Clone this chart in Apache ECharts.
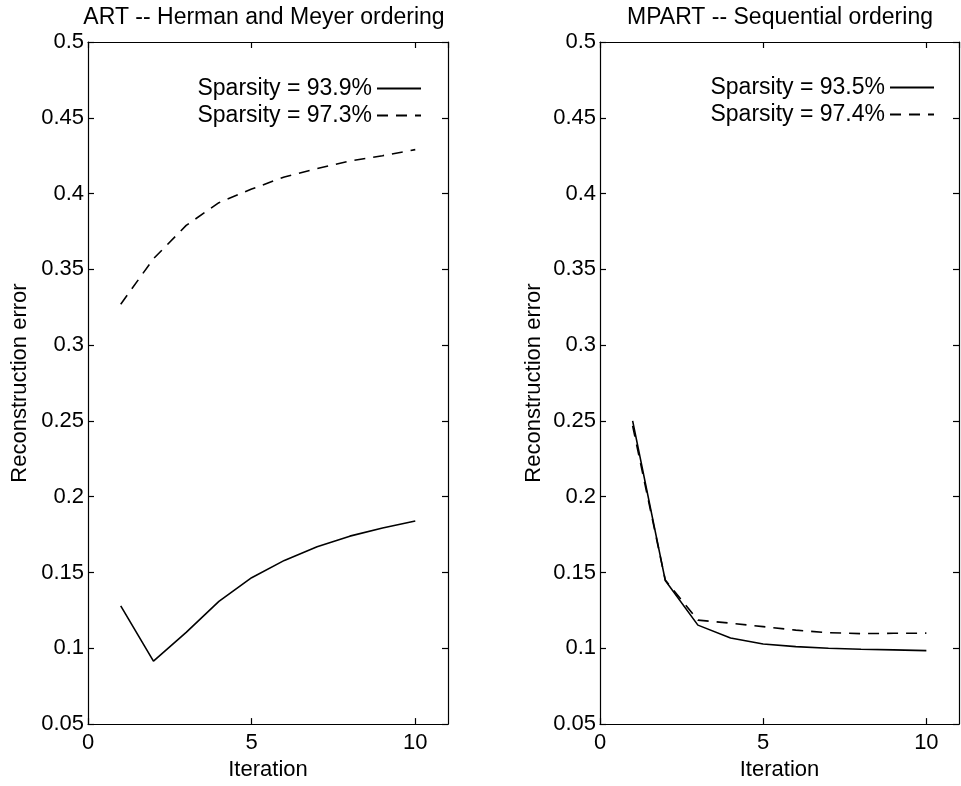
<!DOCTYPE html>
<html>
<head>
<meta charset="utf-8">
<script src="https://cdn.jsdelivr.net/npm/echarts@6/dist/echarts.min.js"></script>
<style>
html,body{margin:0;padding:0;background:#fff;}
#chart{width:961px;height:786px;}
</style>
</head>
<body>
<div id="chart"></div>
<script>
// ---- data ----
const iterations = [1, 2, 3, 4, 5, 6, 7, 8, 9, 10];
const artSolid  = [0.128, 0.0915, 0.1105, 0.131, 0.1466, 0.158, 0.167, 0.174, 0.1794, 0.184];
const artDashed = [0.327, 0.357, 0.379, 0.394, 0.403, 0.411, 0.4165, 0.4215, 0.425, 0.429];
const mpartSolid  = [0.25, 0.1448, 0.1153, 0.1068, 0.1028, 0.1011, 0.100, 0.0994, 0.099, 0.0985];
const mpartDashed = [0.2467, 0.1450, 0.1186, 0.1166, 0.1143, 0.112, 0.1103, 0.1097, 0.1099, 0.110];
const titles = ['ART -- Herman and Meyer ordering', 'MPART -- Sequential ordering'];
const leftNames = ['Sparsity = 93.9%', 'Sparsity = 97.3%'];
const rightNames = ['Sparsity = 93.5%', 'Sparsity = 97.4%'];
const xLabel = 'Iteration';
const yLabel = 'Reconstruction error';

const FONT = '"Liberation Sans", Arial, Helvetica, sans-serif';
const FS = 22;
const INK = '#000';

function pair(a, b) { return a.map((v, i) => [b[i], v]); }

const grids = [
  {left: 88, top: 42, width: 360, height: 684},
  {left: 600, top: 42, width: 359, height: 684}
];

function xAxes(gi) {
  const base = {
    type: 'value', gridIndex: gi, min: 0, max: 11, interval: 5,
    axisLine: {show: true, onZero: false, lineStyle: {color: INK, width: 1.2}},
    axisTick: {show: true, inside: true, length: 6, lineStyle: {color: INK, width: 1.2}},
    splitLine: {show: false}
  };
  return [
    Object.assign({}, base, {
      position: 'bottom',
      name: xLabel, nameLocation: 'middle', nameGap: 31,
      nameTextStyle: {fontFamily: FONT, fontSize: FS, color: INK},
      axisLabel: {show: true, margin: 8, fontFamily: FONT, fontSize: FS, color: INK, showMaxLabel: false,
        formatter: v => (v === 11 ? '' : String(v))}
    }),
    Object.assign({}, base, {position: 'top', axisLabel: {show: false}})
  ];
}

function yAxes(gi, gap) {
  const base = {
    type: 'value', gridIndex: gi, min: 0.05, max: 0.5, interval: 0.05,
    axisLine: {show: true, onZero: false, lineStyle: {color: INK, width: 1.2}},
    axisTick: {show: true, inside: true, length: 6, lineStyle: {color: INK, width: 1.2}},
    splitLine: {show: false}
  };
  return [
    Object.assign({}, base, {
      position: 'left',
      name: yLabel, nameLocation: 'middle', nameGap: gap,
      nameTextStyle: {fontFamily: FONT, fontSize: FS, color: INK},
      axisLabel: {show: true, margin: 4, fontFamily: FONT, fontSize: FS, color: INK,
        formatter: v => String(parseFloat(v.toFixed(2)))}
    }),
    Object.assign({}, base, {position: 'right', axisLabel: {show: false}})
  ];
}

function lineSeries(name, data, xi, yi, dashed) {
  return {
    name: name, type: 'line', xAxisIndex: xi, yAxisIndex: yi,
    data: data, symbol: 'none', showSymbol: false, smooth: false,
    lineStyle: {color: INK, width: 1.6, type: dashed ? [11, 8] : 'solid'},
    itemStyle: {color: INK},
    silent: true, animation: false
  };
}

function legend(names, right, top) {
  return {
    data: names, orient: 'vertical', align: 'right', right: right, top: top, padding: 0,
    itemWidth: 44, itemHeight: 14, itemGap: 4, selectedMode: false,
    itemStyle: {opacity: 0, color: 'transparent', borderWidth: 0},
    textStyle: {fontFamily: FONT, fontSize: 23, color: INK}
  };
}

const chart = echarts.init(document.getElementById('chart'), null, {renderer: 'canvas'});
chart.setOption({
  backgroundColor: '#fff',
  animation: false,
  title: [
    {text: titles[0], left: 259, top: 1, textAlign: 'center',
     textStyle: {fontFamily: FONT, fontSize: 23, fontWeight: 'normal', color: INK}},
    {text: titles[1], left: 775, top: 1, textAlign: 'center',
     textStyle: {fontFamily: FONT, fontSize: 23, fontWeight: 'normal', color: INK}}
  ],
  legend: [legend(leftNames, 539, 77), legend(rightNames, 26, 76)],
  grid: grids,
  xAxis: [].concat(xAxes(0), xAxes(1)),
  yAxis: [].concat(yAxes(0, 57), yAxes(1, 55)),
  series: [
    lineSeries(leftNames[0], pair(artSolid, iterations), 0, 0, false),
    lineSeries(leftNames[1], pair(artDashed, iterations), 0, 0, true),
    lineSeries(rightNames[0], pair(mpartSolid, iterations), 2, 2, false),
    lineSeries(rightNames[1], pair(mpartDashed, iterations), 2, 2, true)
  ]
});
</script>
</body>
</html>
